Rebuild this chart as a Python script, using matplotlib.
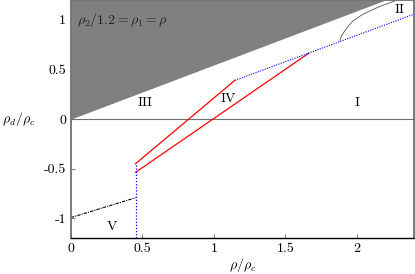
import numpy as np
import matplotlib.pyplot as plt

plt.rcParams['font.family'] = 'cmr10'
plt.rcParams['mathtext.fontset'] = 'cm'
plt.rcParams['axes.unicode_minus'] = False
plt.rcParams['axes.formatter.use_mathtext'] = True

# boundary of the shaded (forbidden) region: rho_d = slope * rho
bound_x = [0.0, 2.2, 2.4]
bound_y = [0.0, 1.2, 1.2]

# red branches
red_up_x = [0.452, 1.147]
red_up_y = [-0.45, 0.39]
red_lo_x = [0.452, 1.664]
red_lo_y = [-0.537, 0.664]

# blue dotted lines
blue_diag_x = [1.147, 2.4]
blue_diag_y = [0.39, 1.057]
blue_vert_x = [0.452, 0.452]
blue_vert_y = [-1.2, -0.45]

# black dash-dot branch (region V)
dd_x = [0.0, 0.452]
dd_y = [-0.993, -0.793]

# curve in region II
curve_x = [1.881, 1.893, 1.916, 1.945, 1.974, 2.03, 2.09, 2.17, 2.266]
curve_y = [0.783, 0.84, 0.89, 0.945, 0.99, 1.045, 1.09, 1.14, 1.19]

regions = ['I', 'II', 'III', 'IV', 'V']
region_x = [2.0, 2.3, 0.52, 1.1, 0.29]
region_y = [0.16, 1.1, 0.16, 0.2, -1.09]

xticks = [0, 0.5, 1, 1.5, 2]
yticks = [-1, -0.5, 0, 0.5, 1]

fig = plt.figure(figsize=(4.15, 2.74), dpi=100)
ax = fig.add_axes([0.171, 0.131, 0.8266, 0.869])

ax.fill_between(bound_x, bound_y, 1.2, color='#808080', lw=0)
ax.axhline(0, color='#707070', lw=0.8)

ax.plot(red_up_x, red_up_y, color='red', lw=0.9)
ax.plot(red_lo_x, red_lo_y, color='red', lw=0.9)
ax.plot(blue_diag_x, blue_diag_y, color='blue', lw=0.8, ls=(0, (1, 1.2)))
ax.plot(blue_vert_x, blue_vert_y, color='blue', lw=0.9, ls=(0, (1, 1.5)))
ax.plot(dd_x, dd_y, color='black', lw=0.8, ls=(0, (3, 1, 1, 1)))
ax.plot(curve_x, curve_y, color='#555555', lw=0.6)

for name, tx, ty in zip(regions, region_x, region_y):
    ax.text(tx, ty, name, ha='center', va='center', fontsize=10)

ax.text(0.04, 1.0, r'$\rho_2/1.2=\rho_1=\rho$', ha='left', va='center',
        fontsize=10, color='#222222')

ax.set_xlim(0, 2.4)
ax.set_ylim(-1.2, 1.2)
ax.set_xticks(xticks)
ax.set_xticklabels([f'{t:g}' for t in xticks])
ax.set_yticks(yticks)
ax.set_yticklabels([f'{t:g}' for t in yticks])
ax.tick_params(direction='in', length=3, width=0.8, color='#808080', labelsize=10)

for s in ['left', 'right', 'top']:
    ax.spines[s].set_color('#707070')
    ax.spines[s].set_linewidth(1.3)
ax.spines['bottom'].set_color('black')
ax.spines['bottom'].set_linewidth(1.0)

ax.set_xlabel(r'$\rho/\rho_c$', fontsize=10, labelpad=1)
ax.set_ylabel(r'$\rho_d/\rho_c$', fontsize=10, rotation=0, labelpad=18, va='center')

fig.savefig('out.png', dpi=100)
